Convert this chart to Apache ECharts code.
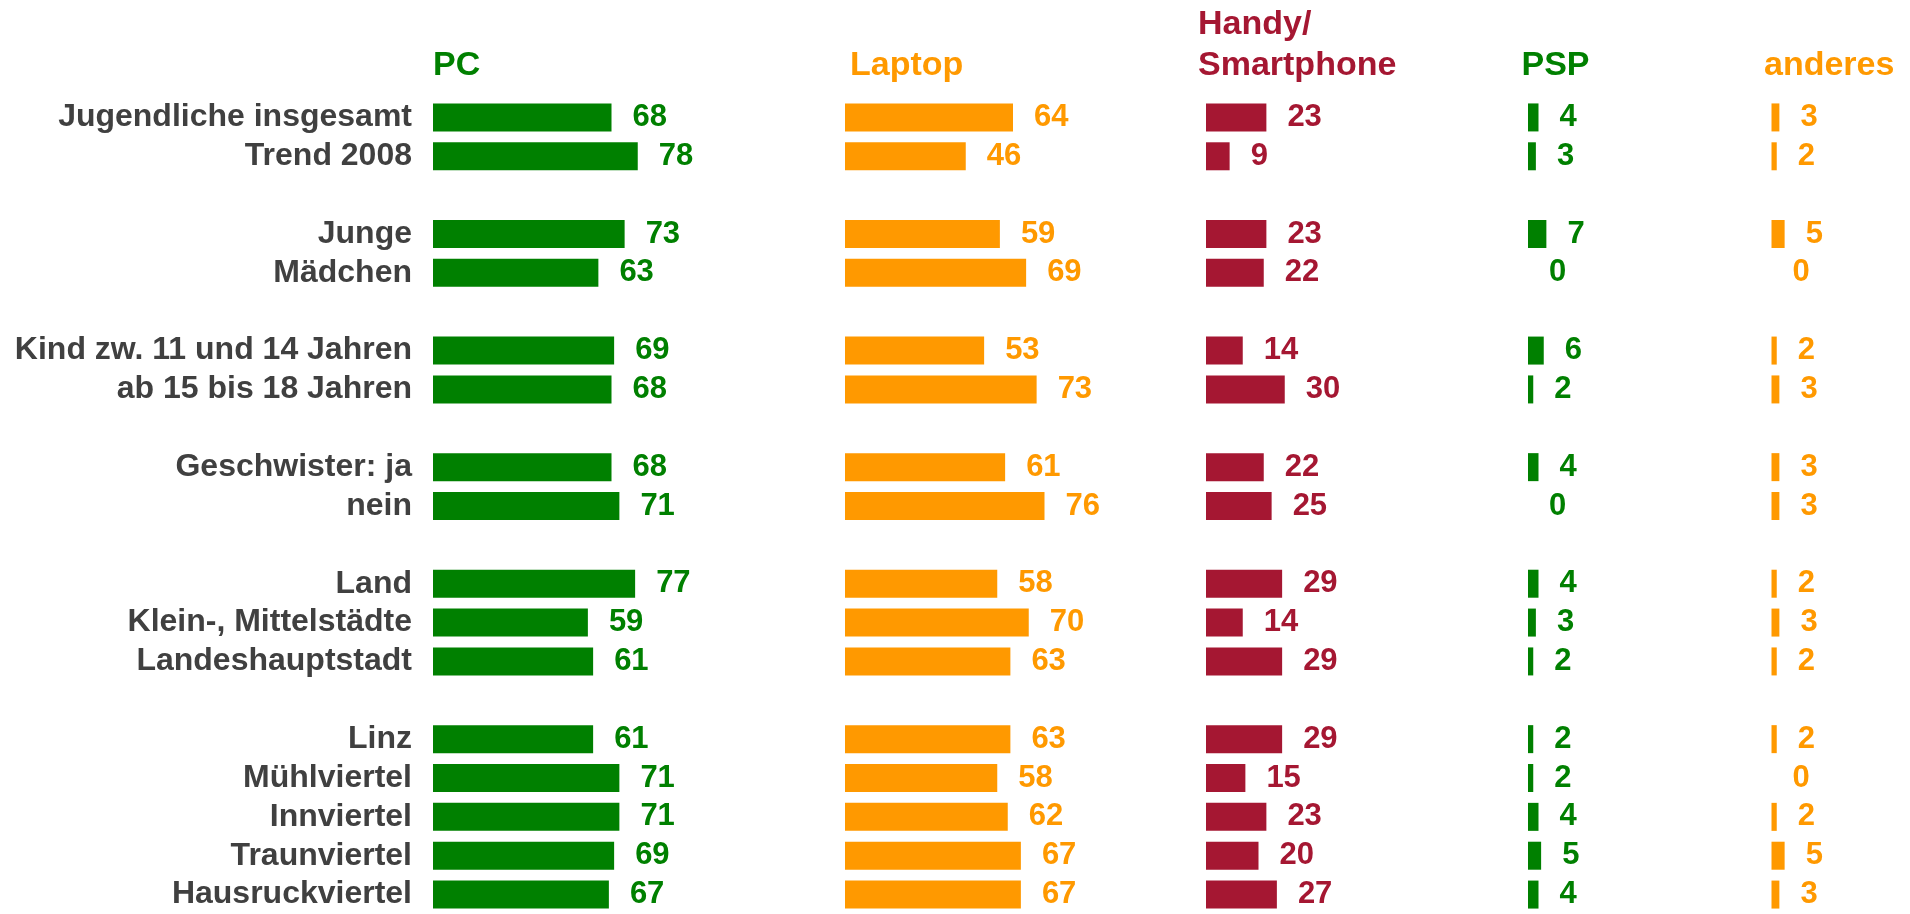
<!DOCTYPE html>
<html>
<head>
<meta charset="utf-8">
<script src="https://cdn.jsdelivr.net/npm/echarts@6/dist/echarts.min.js"></script>
<style>
html,body{margin:0;padding:0;background:#fff;}
#chart{width:1910px;height:914px;}
</style>
</head>
<body>
<div id="chart"></div>
<script>
// ---- data ----
const categories = ['Jugendliche insgesamt','Trend 2008','','Junge','Mädchen','','Kind zw. 11 und 14 Jahren','ab 15 bis 18 Jahren','','Geschwister: ja','nein','','Land','Klein-, Mittelstädte','Landeshauptstadt','','Linz','Mühlviertel','Innviertel','Traunviertel','Hausruckviertel'];
const columnTitles = ['PC','Laptop','Handy/\nSmartphone','PSP','anderes'];
const pc      = [68,78,null,73,63,null,69,68,null,68,71,null,77,59,61,null,61,71,71,69,67];
const laptop  = [64,46,null,59,69,null,53,73,null,61,76,null,58,70,63,null,63,58,62,67,67];
const handy   = [23,9,null,23,22,null,14,30,null,22,25,null,29,14,29,null,29,15,23,20,27];
const psp     = [4,3,null,7,0,null,6,2,null,4,0,null,4,3,2,null,2,2,4,5,4];
const anderes = [3,2,null,5,0,null,2,3,null,3,3,null,2,3,2,null,2,0,2,5,3];

// ---- layout / style ----
const FONT = '"Liberation Sans", Arial, sans-serif';
const colors = ['#008000','#FF9900','#A51732','#008000','#FF9900'];
const seriesValues = [pc, laptop, handy, psp, anderes];
const SCALE = 2.625;               // px per percentage point
const zeroX = [433, 845, 1206, 1528, 1771.5];
const axisMax = [100, 100, 100, 40, 40];
const titleX = [433, 850, 1198, 1521.5, 1764];
const gridTop = 98, gridHeight = 822;

const grids = [], xAxes = [], yAxes = [], series = [], titles = [];
for (let i = 0; i < 5; i++) {
  grids.push({ left: zeroX[i], top: gridTop, width: axisMax[i] * SCALE, height: gridHeight, containLabel: false });
  xAxes.push({ type: 'value', gridIndex: i, min: 0, max: axisMax[i], show: false });
  yAxes.push({
    type: 'category', gridIndex: i, inverse: true, data: categories,
    axisLine: { show: false }, axisTick: { show: false }, splitLine: { show: false },
    axisLabel: {
      show: i === 0, interval: 0, hideOverlap: false, margin: 21, fontSize: 32, fontWeight: 'bold',
      color: '#404040', fontFamily: FONT, padding: [10, 0, 0, 0]
    }
  });
  series.push({
    type: 'bar', xAxisIndex: i, yAxisIndex: i, barWidth: 28,
    data: seriesValues[i].map(v => v === null ? '-' : v),
    itemStyle: { color: colors[i] },
    label: {
      show: true, position: 'right', distance: 21,
      fontSize: 31, fontWeight: 'bold', color: colors[i], fontFamily: FONT,
      padding: [10, 0, 0, 0]
    },
    animation: false
  });
  const twoLine = columnTitles[i].indexOf('\n') >= 0;
  titles.push({
    text: columnTitles[i], left: titleX[i], top: twoLine ? 4 : 45,
    padding: 0,
    textStyle: { fontSize: 34, fontWeight: 'bold', color: colors[i], fontFamily: FONT, lineHeight: 41 }
  });
}

const chart = echarts.init(document.getElementById('chart'), null, { renderer: 'canvas' });
chart.setOption({
  backgroundColor: '#ffffff',
  animation: false,
  title: titles,
  grid: grids,
  xAxis: xAxes,
  yAxis: yAxes,
  series: series
});
</script>
</body>
</html>
